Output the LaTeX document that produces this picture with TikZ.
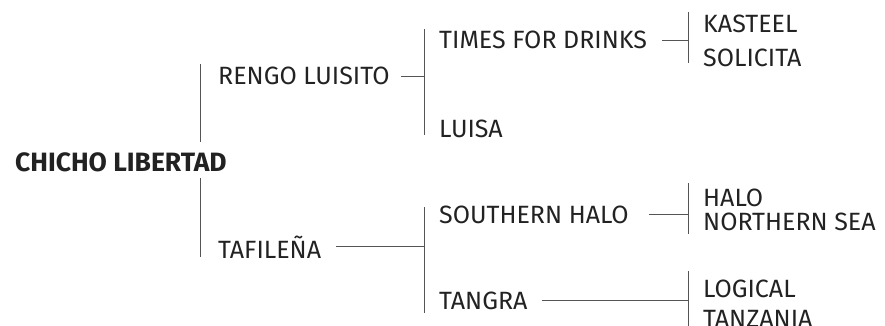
\documentclass[tikz,border=0pt]{standalone}
\usepackage{fontspec}
\setmainfont{Fira Sans}
\usepackage{tikz}
\usetikzlibrary{positioning}

\definecolor{inkgray}{HTML}{222222}
\definecolor{linegray}{HTML}{555555}

\tikzset{
  label/.style={anchor=base west, inner sep=0pt, text=inkgray, font=\fontsize{25}{30}\selectfont},
  rootlabel/.style={label, font=\fontsize{26.5}{30}\selectfont\bfseries},
  bar/.style={draw=linegray, line width=1pt}
}

\begin{document}
\begin{tikzpicture}[x=1pt,y=-1pt]
    \useasboundingbox (0,0) rectangle (885,326);

    % names
    \node[rootlabel] (chicho) at (15,171) {CHICHO LIBERTAD};
    \node[label] (rengo) at (218,85) {RENGO LUISITO};
    \node[label] (tafilena) at (218,258) {TAFILEÑA};
    \node[label] (times) at (439,49) {TIMES FOR DRINKS};
    \node[label] (luisa) at (439,137) {LUISA};
    \node[label] (southern) at (439,223) {SOUTHERN HALO};
    \node[label] (tangra) at (439,309) {TANGRA};
    \node[label] (kasteel) at (703,33) {KASTEEL};
    \node[label] (solicita) at (703,67) {SOLICITA};
    \node[label] (halo) at (703,206) {HALO};
    \node[label] (northern) at (703,230) {NORTHERN SEA};
    \node[label] (logical) at (703,297) {LOGICAL};
    \node[label] (tanzania) at (703,327) {TANZANIA};

    % brackets
    \coordinate (c-top) at (200,64);
    \coordinate (c-up) at (200,142);
    \coordinate (c-down) at (200,178);
    \coordinate (c-bot) at (200,257);
    \draw[bar] (c-top) -- (c-up);
    \draw[bar] (c-down) -- (c-bot);

    \coordinate (r-top) at (424,29);
    \coordinate (r-bot) at (424,135);
    \draw[bar] (r-top) -- (r-bot);
    \draw[bar] ([xshift=11pt]rengo.east) -- (rengo.east -| r-top);

    \coordinate (t-top) at (424,207);
    \coordinate (t-bot) at (424,313);
    \draw[bar] (t-top) -- (t-bot);
    \draw[bar] ([xshift=15pt]tafilena.east) -- (tafilena.east -| t-top);

    \coordinate (d-top) at (688,12);
    \coordinate (d-bot) at (688,63);
    \draw[bar] (d-top) -- (d-bot);
    \draw[bar] ([xshift=15pt]times.east) -- (times.east -| d-top);

    \coordinate (s-top) at (688,183);
    \coordinate (s-bot) at (688,234);
    \draw[bar] (s-top) -- (s-bot);
    \draw[bar] ([xshift=20pt]southern.east) -- (southern.east -| s-top);

    \coordinate (g-top) at (688,271);
    \coordinate (g-bot) at (688,330);
    \draw[bar] (g-top) -- (g-bot);
    \draw[bar] ([xshift=14pt]tangra.east) -- (tangra.east -| g-top);
  \end{tikzpicture}
\end{document}
